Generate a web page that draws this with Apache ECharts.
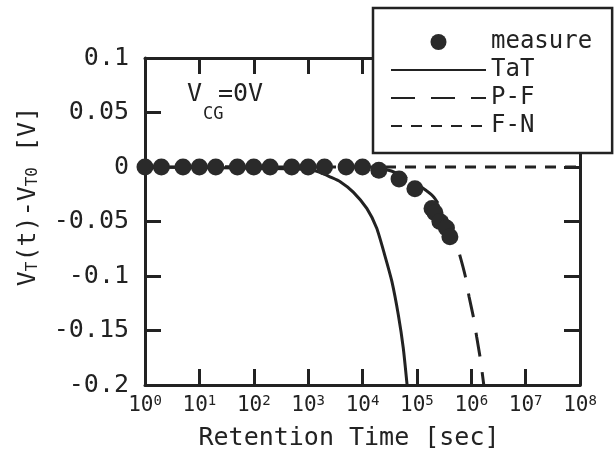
<!DOCTYPE html>
<html style="height: 100%;width:100%">
<head>
<meta charset="utf-8">
</head>
<body style="height: 100%; width:100%; margin:0; background:#fff">
<div id="chart-panel" style="height: 471px;width: 616px"></div>
<script type="text/javascript" src="https://fastly.jsdelivr.net/npm/echarts@6.0.0/dist/echarts.min.js"></script>
<script type="text/javascript">
// measured points (time in sec, shift in V)
var timeMeasure = [1, 2, 5, 10, 20, 50, 100, 200, 500, 1000, 2000, 5000, 10000, 20000,
  47000, 92000, 190000, 215000, 265000, 350000, 405000];
var dvMeasure = [0, 0, 0, 0, 0, 0, 0, 0, 0, 0, 0, 0, 0, -0.003,
  -0.011, -0.020, -0.038, -0.042, -0.050, -0.056, -0.064];

// TaT model curve
var timeTaT = [1, 1000, 1660, 2510, 3890, 6760, 12000, 18200, 25700, 34700, 45700, 56200, 66100];
var dvTaT = [0, -0.002, -0.005, -0.009, -0.0135, -0.023, -0.038, -0.056, -0.081, -0.105, -0.136, -0.166, -0.2];

// P-F model curve
var timePF = [1, 10000, 25000, 44700, 74000, 126000, 200000, 282000, 398000, 500000,
  617000, 776000, 912000, 1120000, 1260000, 1480000, 1700000];
var dvPF = [0, 0, -0.002, -0.006, -0.012, -0.019, -0.027, -0.038, -0.053, -0.066,
  -0.081, -0.100, -0.119, -0.140, -0.156, -0.177, -0.2];

// F-N model curve
var timeFN = [1, 100000000];
var dvFN = [0, 0];

function pairs(xs, ys) {
  return xs.map(function (x, i) { return [x, ys[i]]; });
}

var ink = '#222';
var mono = 'DejaVu Sans Mono';

var myChart = echarts.init(document.getElementById('chart-panel'));

var tickStyle = { show: true, inside: true, length: 16, lineStyle: { color: ink, width: 3 } };
var lineAxis = { show: true, onZero: false, lineStyle: { color: ink, width: 3 } };
var hideDot = { opacity: 0 };

var option = {
  backgroundColor: '#fff',
  animation: false,
  grid: { left: 145, right: 36, top: 58, bottom: 86, containLabel: false, outerBoundsMode: 'none' },
  legend: {
    data: [
      { name: 'measure' },
      { name: 'TaT', itemStyle: hideDot },
      { name: 'P-F', itemStyle: hideDot },
      { name: 'F-N', itemStyle: hideDot }
    ],
    orient: 'vertical',
    left: 373,
    top: 8,
    padding: [22, 20, 15, 17],
    itemWidth: 95,
    itemHeight: 16,
    itemGap: 4,
    backgroundColor: '#fff',
    borderColor: ink,
    borderWidth: 2.5,
    borderRadius: 0,
    z: 10,
    textStyle: { fontFamily: mono, fontSize: 24, color: ink }
  },
  xAxis: [{
    type: 'log',
    logBase: 10,
    min: 1,
    max: 100000000,
    splitNumber: 8,
    position: 'bottom',
    name: 'Retention Time [sec]',
    nameLocation: 'middle',
    nameGap: 41,
    nameMoveOverlap: false,
    nameTextStyle: { fontFamily: mono, fontSize: 25, color: ink, padding: [0, 27, 0, 0] },
    axisLine: lineAxis,
    axisTick: tickStyle,
    minorTick: { show: false },
    splitLine: { show: false },
    axisLabel: {
      margin: 9,
      color: ink,
      formatter: function (v) {
        var e = Math.round(Math.log10(v));
        return '{b|10}{s|' + e + '}';
      },
      rich: {
        b: { fontFamily: mono, fontSize: 21, lineHeight: 22, color: ink, verticalAlign: 'bottom' },
        s: { fontFamily: mono, fontSize: 14, lineHeight: 14, color: ink, verticalAlign: 'top' }
      }
    }
  }, {
    type: 'log',
    logBase: 10,
    min: 1,
    max: 100000000,
    splitNumber: 8,
    position: 'top',
    axisLine: lineAxis,
    axisTick: tickStyle,
    axisLabel: { show: false },
    splitLine: { show: false }
  }],
  yAxis: [{
    type: 'value',
    min: -0.2,
    max: 0.1,
    interval: 0.05,
    position: 'left',
    name: '{a|V}{sub|T}{a|(t)-V}{sub|T0}{a| [V]}',
    nameLocation: 'middle',
    nameGap: 104,
    nameMoveOverlap: false,
    nameTextStyle: {
      color: ink,
      padding: [0, 0, 0, 50],
      rich: {
        a: { fontFamily: mono, fontSize: 25, lineHeight: 25, color: ink, verticalAlign: 'top' },
        sub: { fontFamily: mono, fontSize: 16, lineHeight: 16, color: ink, verticalAlign: 'bottom', padding: [13, 0, 0, 0] }
      }
    },
    axisLine: lineAxis,
    axisTick: tickStyle,
    splitLine: { show: false },
    axisLabel: { margin: 16, fontFamily: mono, fontSize: 25, color: ink }
  }, {
    type: 'value',
    min: -0.2,
    max: 0.1,
    interval: 0.05,
    position: 'right',
    axisLine: lineAxis,
    axisTick: tickStyle,
    splitLine: { show: false },
    axisLabel: { show: false }
  }],
  // V_CG=0V note
  graphic: [{
    type: 'text', left: 187, top: 82,
    style: { text: 'V', fontFamily: mono, fontSize: 25, fill: ink }
  }, {
    type: 'text', left: 203, top: 106,
    style: { text: 'CG', fontFamily: mono, fontSize: 17, fill: ink }
  }, {
    type: 'text', left: 218, top: 82,
    style: { text: '=0V', fontFamily: mono, fontSize: 25, fill: ink }
  }],
  series: [{
    name: 'F-N',
    type: 'line',
    data: pairs(timeFN, dvFN),
    symbol: 'none',
    lineStyle: { color: ink, width: 3, type: [11, 9] },
    itemStyle: { color: ink },
    z: 2
  }, {
    name: 'P-F',
    type: 'line',
    data: pairs(timePF, dvPF),
    symbol: 'none',
    smooth: 0.2,
    lineStyle: { color: ink, width: 3, type: [24, 16] },
    itemStyle: { color: ink },
    z: 3
  }, {
    name: 'TaT',
    type: 'line',
    data: pairs(timeTaT, dvTaT),
    symbol: 'none',
    smooth: 0.2,
    lineStyle: { color: ink, width: 3, type: 'solid' },
    itemStyle: { color: ink },
    z: 4
  }, {
    name: 'measure',
    type: 'scatter',
    data: pairs(timeMeasure, dvMeasure),
    symbol: 'circle',
    symbolSize: 17,
    itemStyle: { color: '#2a2a2a', opacity: 1 },
    z: 5
  }]
};

myChart.setOption(option);
</script>
</body>
</html>
